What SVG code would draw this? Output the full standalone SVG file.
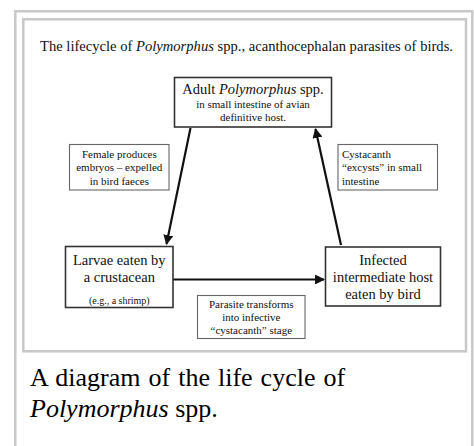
<svg xmlns="http://www.w3.org/2000/svg" width="474" height="446" viewBox="0 0 474 446">
<defs>
<marker id="ah" viewBox="0 0 10 10" refX="9" refY="5" markerWidth="4.5" markerHeight="4.5" orient="auto" markerUnits="strokeWidth">
<path d="M0,0 L10,5 L0,10 z" fill="#111"/>
</marker>
<style>
text{font-family:'Liberation Serif','Times New Roman','DejaVu Serif',serif;fill:#111}
.frame{fill:none;stroke:#c8c8c8;stroke-width:2.5}
.box{fill:#fff;stroke:#333;stroke-width:1.6}
.note{fill:#fff;stroke:#666;stroke-width:1.1}
.big{font-size:14.5px}
.sm{font-size:11px}
.xs{font-size:10px}
.c{text-anchor:middle}
.arr{stroke:#111;stroke-width:2.2;fill:none;marker-end:url(#ah)}
.cap{font-size:26px;fill:#000}
</style>
</defs>
<rect width="474" height="446" fill="#fff"/>
<path class="frame" d="M15.3 446 V11.3 H472.3 V446"/>
<rect class="frame" x="23.3" y="19.3" width="442.7" height="332"/>
<text x="246.5" y="51" class="c" style="font-size:14.6px">The lifecycle of <tspan font-style="italic">Polymorphus</tspan> spp., acanthocephalan parasites of birds.</text>
<g id="connectors">
<line class="arr" x1="190.5" y1="128" x2="166.5" y2="244"/>
<line class="arr" x1="341" y1="245" x2="315.5" y2="129"/>
<line class="arr" x1="173" y1="279.5" x2="324" y2="279.5"/>
</g>
<g id="adult">
<rect class="box" x="174.5" y="77.5" width="157" height="49.5"/>
<text x="253" y="94" class="c big">Adult <tspan font-style="italic">Polymorphus</tspan> spp.</text>
<text x="253" y="107.5" class="c sm">in small intestine of avian</text>
<text x="253" y="120.5" class="c sm">definitive host.</text>
</g>
<g id="note-embryos">
<rect class="note" x="69.5" y="144.5" width="99.5" height="45.5"/>
<text x="119.3" y="157.5" class="c sm">Female produces</text>
<text x="119.3" y="171" class="c sm">embryos – expelled</text>
<text x="119.3" y="184.5" class="c sm">in bird faeces</text>
</g>
<g id="note-excyst">
<rect class="note" x="338" y="144.5" width="99.5" height="45.5"/>
<text x="342" y="157.5" class="sm">Cystacanth</text>
<text x="342" y="171" class="sm">“excysts” in small</text>
<text x="342" y="184.5" class="sm">intestine</text>
</g>
<g id="larvae">
<rect class="box" x="65.5" y="246.5" width="107.5" height="61"/>
<text x="119.3" y="265" class="c big">Larvae eaten by</text>
<text x="119.3" y="281.5" class="c big">a crustacean</text>
<text x="119.3" y="303.5" class="c xs">(e.g., a shrimp)</text>
</g>
<g id="infected">
<rect class="box" x="325.5" y="247" width="115" height="59"/>
<text x="383" y="265" class="c big">Infected</text>
<text x="383" y="281.5" class="c big">intermediate host</text>
<text x="383" y="298.5" class="c big">eaten by bird</text>
</g>
<g id="note-transform">
<rect class="note" x="197.5" y="295.5" width="107.5" height="43"/>
<text x="251.3" y="307.5" class="c sm">Parasite transforms</text>
<text x="251.3" y="321" class="c sm">into infective</text>
<text x="251.3" y="334" class="c sm">“cystacanth” stage</text>
</g>
<text x="30" y="386" class="cap" word-spacing="1.5">A diagram of the life cycle of</text>
<text x="30" y="417" class="cap"><tspan font-style="italic">Polymorphus</tspan> spp.</text>
</svg>
